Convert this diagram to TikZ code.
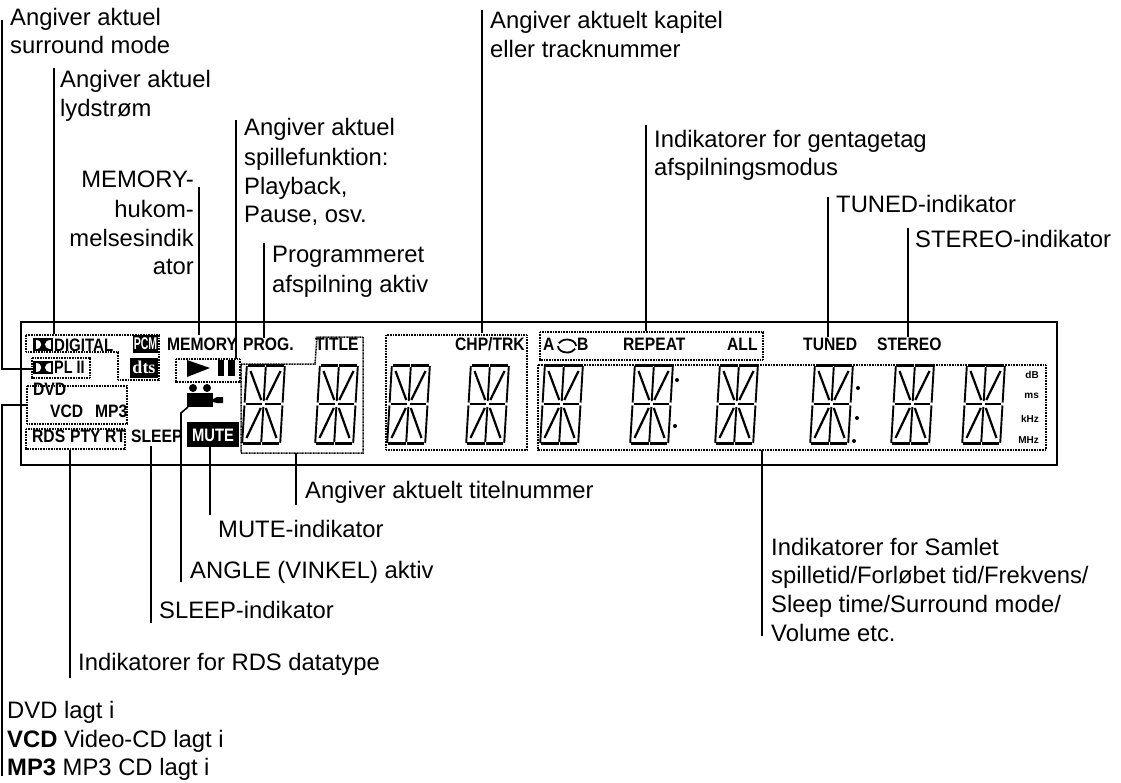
\documentclass[tikz,border=0pt]{standalone}
\usepackage{fontspec}
\setmainfont{Liberation Sans}
\newfontfamily\dtsfont{Liberation Serif}
\newcommand{\lcdsz}[1]{\fontsize{#1}{#1}\selectfont}
\tikzset{
 x=1pt,y=-1pt,
 lbl/.style={anchor=base west,inner sep=0pt,font=\fontsize{23.8}{24}\selectfont},
 lblr/.style={anchor=base east,inner sep=0pt,font=\fontsize{23.8}{24}\selectfont},
 wire/.style={draw=black,line width=1.6pt},
 dotbox/.style={draw=black,line width=1.5pt,dash pattern=on 1pt off 0.6pt},
 lcd/.style={anchor=base west,inner sep=0pt,font=\lcdsz{18}\bfseries,xscale=0.87},
 tiny/.style={anchor=base east,inner sep=0pt,font=\lcdsz{10}\bfseries},
 vseg/.style={draw=black,line width=1.9pt},
 dseg/.style={draw=black,line width=2.2pt},
 hseg/.style={draw=black,line width=3.4pt},
 mseg/.style={draw=black,line width=2.6pt},
}
\newcommand{\digit}[1]{%
 \begin{scope}[shift={(#1+5,363)},xslant=0.06]
  \draw[hseg] (1,2.2)--(18.4,2.2) (19.6,2.2)--(37,2.2) (1,80.5)--(18.4,80.5) (19.6,80.5)--(37,80.5);
  \draw[mseg] (1.5,41)--(17.5,41) (20.5,41)--(36.5,41);
  \draw[vseg] (0,3)--(0,39.5) (0,42.5)--(0,80) (19,4)--(19,38) (19,44)--(19,79) (38,3)--(38,39.5) (38,42.5)--(38,80);
  \draw[dseg] (4,8)--(16.5,37) (34,8)--(21.5,37) (16.5,45)--(4,75) (21.5,45)--(34,75);
 \end{scope}}
\begin{document}
\begin{tikzpicture}
\useasboundingbox (0,0) rectangle (1121,782);
\fill[white] (0,0) rectangle (1121,782);
% panel
\draw[wire] (21,322) rectangle (1057,465);
% digits
\foreach \d in {242,315,387,466,540,630,715,810,891,962} {\digit{\d}}
% dotted regions
\draw[dotbox] (26,335)--(159,335)--(159,380)--(118,380)--(118,352)--(26,352)--cycle;
\draw[dotbox] (32,358) rectangle (90,378);
\draw[dotbox] (27,386) rectangle (127,424);
\draw[dotbox] (26,429) rectangle (125,449);
\draw[dotbox] (176,359) rectangle (240,382);
\draw[dotbox] (241,364)--(315,364)--(317,337)--(363,337)--(363,453)--(241,453)--cycle;
\draw[dotbox] (386,335) rectangle (527,450);
\draw[dotbox] (540,332) rectangle (763,360);
\draw[dotbox] (538,365) rectangle (1046,450);
% dolby marks
\foreach \xx/\yy in {33/338,33/361} {
 \fill (\xx,\yy) rectangle (\xx+20,\yy+13);
 \fill[white] (\xx+2.5,\yy+2) .. controls (\xx+10,\yy+2) and (\xx+10,\yy+11) .. (\xx+2.5,\yy+11) -- cycle;
 \fill[white] (\xx+17.5,\yy+2) .. controls (\xx+10,\yy+2) and (\xx+10,\yy+11) .. (\xx+17.5,\yy+11) -- cycle;
}
% lcd text
\node[lcd,xscale=0.96] (tdigital) at (54,351) {DIGITAL};
\node[lcd,xscale=0.92] (tpl) at (54,373) {PL II};
\node[lcd] (tdvd) at (33,395) {DVD};
\node[lcd] (tvcd) at (50,417) {VCD};
\node[lcd] (tmp3) at (95,417) {MP3};
\node[lcd] (trds) at (32,442) {RDS};
\node[lcd] (tpty) at (70,442) {PTY};
\node[lcd] (trt) at (105,442) {RT};
\node[lcd] (tsleep) at (131,442) {SLEEP};
\node[lcd] (tmem) at (167,350) {MEMORY};
\node[lcd] (tprog) at (243,350) {PROG.};
\node[lcd] (ttitle) at (315,350) {TITLE};
\node[lcd] (tchp) at (455,350) {CHP/TRK};
\node[lcd] (ta) at (543,350) {A};
\node[lcd] (tb) at (577,350) {B};
\draw[line width=1.8pt] (558,346) arc (180:25:9 and 6.5);
\draw[line width=1.8pt] (576,346) arc (0:-155:9 and 6.5);
\node[lcd] (trep) at (623,350) {REPEAT};
\node[lcd] (tall) at (727,350) {ALL};
\node[lcd] (ttuned) at (803,350) {TUNED};
\node[lcd] (tst) at (877,350) {STEREO};
% unit labels
\node[tiny] (udb) at (1039,378) {dB};
\node[tiny] (ums) at (1039,398) {ms};
\node[tiny] (ukhz) at (1039,422) {kHz};
\node[tiny] (umhz) at (1039,443) {MHz};
% PCM dts
\fill (133,335) rectangle (158,353);
\node[inner sep=0pt,text=white,font=\lcdsz{17}\bfseries,xscale=0.62] (pcm) at (145.5,344) {PCM};
\fill (130,358) rectangle (158,378);
\node[inner sep=0pt,text=white,font=\fontsize{18}{18}\dtsfont\bfseries] (dts) at (144,367) {dts};
% mute
\fill (187,422) rectangle (239,447);
\node[inner sep=0pt,text=white,font=\lcdsz{18}\bfseries,xscale=0.82] (tmute) at (213,435) {MUTE};
% play pause
\fill (187,360)--(210,368)--(187,377)--cycle;
\fill (218,360) rectangle (224,376);
\fill (228,360) rectangle (235,376);
% camera
\fill (193,388) circle (4);
\fill (207,388) circle (4);
\fill (187,393) rectangle (213,407);
\fill (213,399)--(217,397)--(223,397)--(223,403)--(217,403)--(213,402)--cycle;
% dots
\foreach \a/\b in {677/380,675/426,858/388,857/418,854/441} {\fill (\a,\b) circle (2);}
% labels
\node[lbl] (l1) at (10,25) {Angiver aktuel};
\node[lbl] (l1b) at (10,53) {surround mode};
\node[lbl] (l2) at (60,87) {Angiver aktuel};
\node[lbl] (l2b) at (60,116) {lydstrøm};
\node[lblr] (l3) at (194,187) {MEMORY-};
\node[lblr] (l3b) at (194,217) {hukom-};
\node[lblr] (l3c) at (194,246) {melsesindik};
\node[lblr] (l3d) at (194,274) {ator};
\node[lbl] (l4) at (244,135) {Angiver aktuel};
\node[lbl] (l4b) at (244,165) {spillefunktion:};
\node[lbl] (l4c) at (244,194) {Playback,};
\node[lbl] (l4d) at (244,222) {Pause, osv.};
\node[lbl] (l5) at (272,262) {Programmeret};
\node[lbl] (l5b) at (272,292) {afspilning aktiv};
\node[lbl] (l6) at (490,28) {Angiver aktuelt kapitel};
\node[lbl] (l6b) at (490,57) {eller tracknummer};
\node[lbl] (l7) at (654,147) {Indikatorer for gentagetag};
\node[lbl] (l7b) at (654,175) {afspilningsmodus};
\node[lbl] (l8) at (836,212) {TUNED-indikator};
\node[lbl] (l9) at (915,247) {STEREO-indikator};
\node[lbl] (l10) at (305,498) {Angiver aktuelt titelnummer};
\node[lbl] (l11) at (218,537) {MUTE-indikator};
\node[lbl] (l12) at (190,578) {ANGLE (VINKEL) aktiv};
\node[lbl] (l13) at (159,618) {SLEEP-indikator};
\node[lbl] (l14) at (78,670) {Indikatorer for RDS datatype};
\node[lbl] (l15) at (771,555) {Indikatorer for Samlet};
\node[lbl] (l15b) at (771,583) {spilletid/Forløbet tid/Frekvens/};
\node[lbl] (l15c) at (771,612) {Sleep time/Surround mode/};
\node[lbl] (l15d) at (771,641) {Volume etc.};
\node[lbl] (l16) at (7,718) {DVD lagt i};
\node[lbl] (l16b) at (7,747) {\textbf{VCD} Video-CD lagt i};
\node[lbl] (l16c) at (7,775) {\textbf{MP3} MP3 CD lagt i};
% connector ends
\foreach \n/\a/\b in {c1a/2/20,c1b/2/369,c1c/32/369,c2a/54/68,c2b/54/334,c3a/27/405,c3b/2/405,c3c/2/776,
 c4a/199/187,c4b/199/335,c5a/236/120,c5b/236/359,c6a/264/243,c6b/264/338,c7a/482/10,c7b/482/333,
 c8a/646/125,c8b/646/331,c9a/828/197,c9b/828/337,c10a/908/228,c10b/908/337,c11a/296/453,c11b/296/505,
 c12a/210/447,c12b/210/515,c13a/188/407,c13b/181/413,c13c/181/582,c14a/151/446,c14b/151/623,
 c15a/70/450,c15b/70/678,c16a/762/450,c16b/762/636} {\coordinate (\n) at (\a,\b);}
\draw[wire] (c1a)--(c1b)--(c1c);
\draw[wire] (c2a)--(c2b);
\draw[wire] (c3a)--(c3b)--(c3c);
\draw[wire] (c4a)--(c4b);
\draw[wire] (c5a)--(c5b);
\draw[wire] (c6a)--(c6b);
\draw[wire] (c7a)--(c7b);
\draw[wire] (c8a)--(c8b);
\draw[wire] (c9a)--(c9b);
\draw[wire] (c10a)--(c10b);
\draw[wire] (c11a)--(c11b);
\draw[wire] (c12a)--(c12b);
\draw[wire] (c13a)--(c13b)--(c13c);
\draw[wire] (c14a)--(c14b);
\draw[wire] (c15a)--(c15b);
\draw[wire] (c16a)--(c16b);
\end{tikzpicture}
\end{document}
